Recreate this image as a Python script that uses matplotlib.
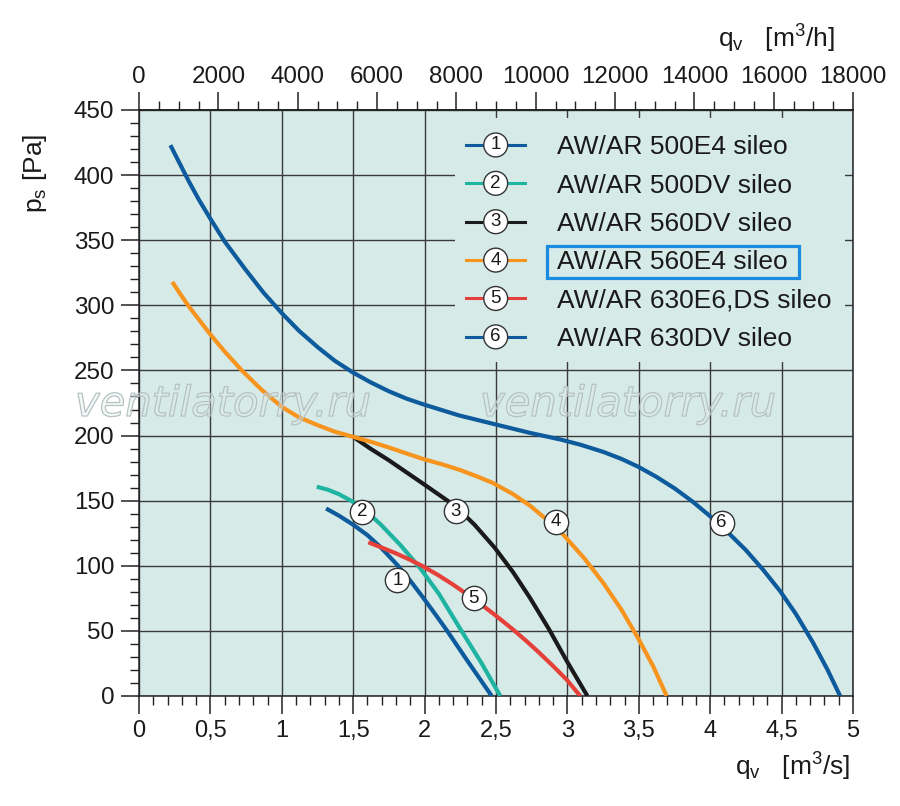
import numpy as np
import matplotlib
matplotlib.use('Agg')
import matplotlib.pyplot as plt
from matplotlib.lines import Line2D
from matplotlib.patches import Circle, Rectangle
from matplotlib.text import Text
from matplotlib.legend_handler import HandlerBase
from matplotlib.ticker import MultipleLocator
import matplotlib.patheffects as pe

plt.rcParams['font.family'] = ['Liberation Sans', 'DejaVu Sans']
plt.rcParams['mathtext.fontset'] = 'custom'
plt.rcParams['mathtext.rm'] = 'Liberation Sans'

# ---------------- data ----------------
series_names = ['AW/AR 500E4 sileo', 'AW/AR 500DV sileo', 'AW/AR 560DV sileo',
                'AW/AR 560E4 sileo', 'AW/AR 630E6,DS sileo', 'AW/AR 630DV sileo']
series_ids = ['1', '2', '3', '4', '5', '6']
series_colors = ['#0d5b9c', '#1fb3a1', '#1a1a1a', '#f7941e', '#e6403a', '#0d5b9c']

q1 = [1.31, 1.40, 1.50, 1.60, 1.69, 1.81, 1.90, 1.99, 2.08, 2.155, 2.30, 2.47]
p1 = [144, 138.5, 131.5, 123.5, 114.5, 100.5, 88.5, 75.5, 62, 50.5, 27, 0]

q2 = [1.245, 1.32, 1.40, 1.50, 1.60, 1.69, 1.83, 1.97, 2.10, 2.25, 2.40, 2.53]
p2 = [160.7, 158.5, 155, 149, 141, 132, 116, 98, 78.5, 51.5, 25, 0]

q3 = [1.50, 1.62, 1.75, 1.87, 1.99, 2.18, 2.27, 2.35, 2.49, 2.62, 2.74, 2.87, 2.995, 3.07, 3.14]
p3 = [199, 190, 181, 172, 163, 148.5, 140, 131.5, 114, 95, 75, 51.5, 27, 13, 0]

q4 = [0.233, 0.29, 0.35, 0.42, 0.497, 0.60, 0.72, 0.86, 1.0, 1.12, 1.25, 1.37, 1.50,
      1.63, 1.76, 1.88, 1.99, 2.12, 2.25, 2.37, 2.48, 2.62, 2.74, 2.86, 2.97,
      3.12, 3.25, 3.38, 3.497, 3.60, 3.695]
p4 = [318, 308.5, 299, 289, 278, 264.5, 250, 235, 222, 214, 208, 203, 199,
      195, 190.5, 186, 182, 178, 173.5, 168.5, 163.5, 155, 146, 135, 124,
      105.5, 87, 66, 44, 23, 0]

q5 = [1.606, 1.70, 1.80, 1.90, 1.99, 2.10, 2.20, 2.345, 2.49, 2.62, 2.72, 2.80,
      2.90, 2.995, 3.09]
p5 = [118, 114, 109.5, 104.5, 99.5, 92.5, 85.5, 74.5, 62.5, 51, 41.5, 33.5,
      23, 12.5, 0]

q6 = [0.22, 0.28, 0.35, 0.42, 0.497, 0.60, 0.742, 0.87, 1.0, 1.12, 1.25, 1.37,
      1.497, 1.62, 1.75, 1.87, 1.99, 2.24, 2.48, 2.74, 2.95, 3.09, 3.25,
      3.38, 3.497, 3.62, 3.75, 3.88, 4.0, 4.13, 4.25, 4.37, 4.49, 4.60, 4.72,
      4.82, 4.91]
p6 = [423, 410, 395, 381, 367, 349, 328, 310, 294, 280.5, 268, 257.5,
      248.5, 241, 234, 228.5, 224, 215.5, 209, 202, 197, 193, 187.5,
      182, 176, 168.5, 159.5, 149, 138, 125, 112, 97, 80.5, 63, 41,
      20.5, 0]

series_q = [q1, q2, q3, q4, q5, q6]
series_p = [p1, p2, p3, p4, p5, p6]

# circled number markers on the curves
marker_q = [1.81, 1.56, 2.22, 2.92, 2.345, 4.08]
marker_p = [89, 141.5, 142, 134, 75, 133]

x_ticks = [0, 0.5, 1, 1.5, 2, 2.5, 3, 3.5, 4, 4.5, 5]
x_tick_labels = ['0', '0,5', '1', '1,5', '2', '2,5', '3', '3,5', '4', '4,5', '5']
y_ticks = [0, 50, 100, 150, 200, 250, 300, 350, 400, 450]
top_ticks = [0, 2000, 4000, 6000, 8000, 10000, 12000, 14000, 16000, 18000]

bg = '#d6eae8'
grid_c = '#3a3a3a'

# ---------------- figure ----------------
fig = plt.figure(figsize=(9, 8.06), dpi=100)
ax = fig.add_axes([139 / 900, 1 - 696 / 806, 714 / 900, 586 / 806])
ax.set_facecolor(bg)
ax.set_xlim(0, 5)
ax.set_ylim(0, 450)

ax.set_xticks(x_ticks)
ax.set_xticklabels(x_tick_labels)
ax.set_yticks(y_ticks)
ax.xaxis.set_minor_locator(MultipleLocator(0.1))
ax.yaxis.set_minor_locator(MultipleLocator(10))
ax.tick_params(axis='x', which='major', direction='out', length=13, width=1.1,
               labelsize=17, pad=4, color='#222222')
ax.tick_params(axis='x', which='minor', direction='out', length=6.5, width=1.0, color='#222222')
ax.tick_params(axis='y', which='major', direction='out', length=13, width=1.1,
               labelsize=17.4, pad=5, color='#222222')
ax.tick_params(axis='y', which='minor', direction='out', length=6.5, width=1.0, color='#222222')
ax.tick_params(labelcolor='#1a1a1a')

ax.set_axisbelow(True)
ax.grid(True, which='major', color=grid_c, lw=1.0)
for s in ax.spines.values():
    s.set_linewidth(1.1)
    s.set_color('#222222')

# top axis in m3/h
sec = ax.secondary_xaxis('top', functions=(lambda q: q * 3600.0, lambda h: h / 3600.0))
sec.set_xticks(top_ticks)
sec.set_xticklabels([str(t) for t in top_ticks])
sec.xaxis.set_minor_locator(MultipleLocator(500))
sec.tick_params(axis='x', which='major', direction='out', length=13, width=1.1,
                labelsize=17.4, pad=3, color='#222222', labelcolor='#1a1a1a')
sec.tick_params(axis='x', which='minor', direction='out', length=6.5, width=1.0, color='#222222')
sec.spines['top'].set_linewidth(1.1)

# mask behind legend (hides grid)
ax.add_patch(Rectangle((0.4426, 0.570), 0.989 - 0.4426, 0.986 - 0.570,
                       transform=ax.transAxes, fc=bg, ec='none', zorder=1))

# curves
handles = []
for q, p, c, name in zip(series_q, series_p, series_colors, series_names):
    h, = ax.plot(q, p, color=c, lw=3.0, solid_capstyle='butt', solid_joinstyle='round',
                 zorder=3, label=name)
    handles.append(h)

# circled numbers on curves
ax.plot(marker_q, marker_p, 'o', ms=17.5, mfc='white', mec='#333333', mew=1.0, zorder=5, ls='none')
for qx, py, num in zip(marker_q, marker_p, series_ids):
    ax.text(qx, py, num, ha='center', va='center', fontsize=13.5, color='#1a1a1a', zorder=6)

# axis labels
ax.text(0.997, -0.119, r'$\mathregular{q_v}$   [m$^\mathregular{3}$/s]', transform=ax.transAxes,
        ha='right', va='center', fontsize=19, color='#1a1a1a')
ax.text(0.975, 1.123, r'$\mathregular{q_v}$   [m$^\mathregular{3}$/h]', transform=ax.transAxes,
        ha='right', va='center', fontsize=19, color='#1a1a1a')
ax.text(-0.145, 0.892, r'$\mathregular{p_s}$ [Pa]', transform=ax.transAxes, rotation=90,
        ha='center', va='center', fontsize=19, color='#1a1a1a')


# legend with circled number handles
class NumHandler(HandlerBase):
    def __init__(self, num):
        super().__init__()
        self.num = num

    def create_artists(self, legend, orig_handle, xdescent, ydescent, width, height, fontsize, trans):
        y = height / 2 - ydescent
        x0 = -xdescent
        line = Line2D([x0, x0 + width], [y, y], color=orig_handle.get_color(), lw=2.2,
                      transform=trans)
        circ = Circle((x0 + width / 2, y), radius=8.6, fc='white', ec='#333333', lw=1.0,
                      transform=trans)
        txt = Text(x0 + width / 2, y, self.num, ha='center', va='center', fontsize=13.5,
                   color='#1a1a1a', transform=trans)
        return [line, circ, txt]


hmap = {h: NumHandler(n) for h, n in zip(handles, series_ids)}
leg = ax.legend(handles=handles, labels=series_names, handler_map=hmap,
                loc='upper left', bbox_to_anchor=(0.458, 0.957), frameon=False,
                fontsize=19, borderpad=0, borderaxespad=0, handlelength=2.25,
                handletextpad=1.2, labelspacing=0.545)
for t in leg.get_texts():
    t.set_color('#1a1a1a')

# watermark
for wx in (75 / 900, 480 / 900):
    fig.text(wx, 1 - 404 / 806, 'ventilatorry.ru', fontsize=30, style='italic',
             family='DejaVu Sans', ha='left', va='center', color=(0.88, 0.94, 0.93, 0.2),
             path_effects=[pe.withStroke(linewidth=0.9, foreground='#b3bdbd')], zorder=10)

# highlight box around entry 4
fig.canvas.draw()
tb = leg.get_texts()[3].get_window_extent()
W, H = fig.bbox.width, fig.bbox.height
cy = (tb.y0 + tb.y1) / 2
rx0, rx1 = tb.x0 - 10, tb.x1 + 11
ry0, ry1 = cy - 16, cy + 16
fig.patches.append(Rectangle((rx0 / W, ry0 / H), (rx1 - rx0) / W, (ry1 - ry0) / H,
                             transform=fig.transFigure, fill=False, ec='#1a8be0', lw=2.3,
                             zorder=20))

fig.savefig('out.png', dpi=100, facecolor='white')
